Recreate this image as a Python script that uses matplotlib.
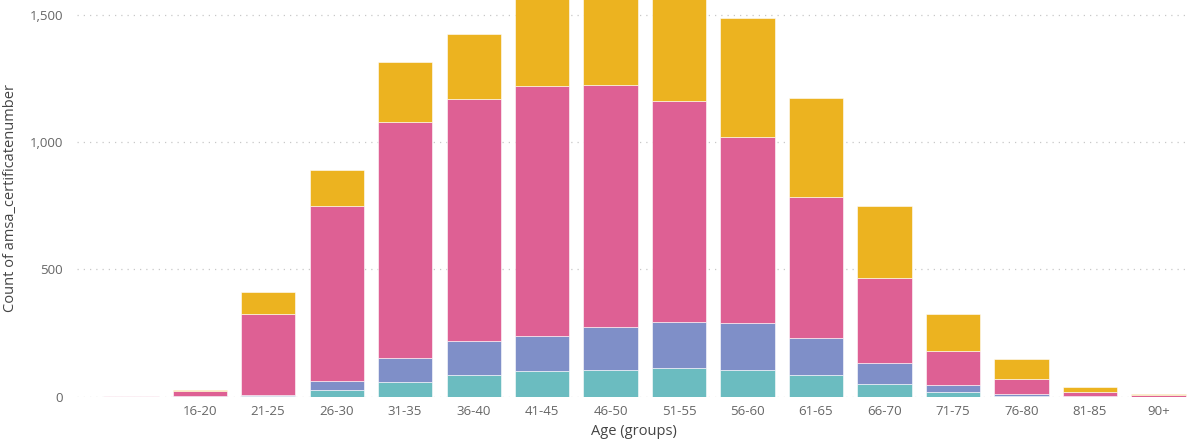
import matplotlib.pyplot as plt
import numpy as np

plt.rcParams['font.family'] = ['Open Sans', 'DejaVu Sans']

# age groups (first one has no age recorded)
groups = ['', '16-20', '21-25', '26-30', '31-35', '36-40', '41-45', '46-50',
          '51-55', '56-60', '61-65', '66-70', '71-75', '76-80', '81-85', '90+']

# counts per series, bottom to top
teal   = [0, 0, 2, 28, 59, 85, 101, 105, 112, 105, 87, 51, 20, 2, 0, 0]
purple = [0, 1, 3, 35, 92, 133, 138, 168, 182, 185, 144, 80, 25, 10, 3, 0]
pink   = [3, 20, 321, 685, 929, 950, 980, 949, 866, 730, 552, 335, 135, 56, 14, 6]
yellow = [0, 5, 85, 143, 235, 256, 420, 420, 430, 467, 390, 284, 143, 79, 20, 4]

series = [teal, purple, pink, yellow]
colors = ['#6bbcc0', '#7f8fc8', '#de6094', '#ecb320']

fig = plt.figure(figsize=(11.9, 4.45), dpi=100)
ax = fig.add_axes([0.0647, 0.1085, 0.9353, 0.8915])

x = np.arange(len(groups))
bottom = np.zeros(len(groups))
for vals, col in zip(series, colors):
    vals = np.array(vals, dtype=float)
    ax.bar(x, vals, width=0.79, bottom=bottom, color=col,
           edgecolor='white', linewidth=0.4, zorder=3)
    bottom += vals

ax.set_xlim(-0.79, 15.46)
ax.set_ylim(0, 1557)
ax.set_yticks([0, 500, 1000, 1500])
ax.set_yticklabels(['0', '500', '1,000', '1,500'])
ax.set_xticks(x)
ax.set_xticklabels(groups)

ax.grid(axis='y', color='#c8c8c8', linestyle=(0, (1, 4)), linewidth=0.9, zorder=0)
ax.tick_params(axis='both', length=0, labelsize=9.5, labelcolor='#666666')
ax.tick_params(axis='x', pad=6)
ax.tick_params(axis='y', pad=10)
for s in ax.spines.values():
    s.set_visible(False)

ax.set_ylabel('Count of amsa_certificatenumber', fontsize=10.5, color='#444444', labelpad=8)
ax.set_xlabel('Age (groups)', fontsize=10.5, color='#444444', labelpad=4)

fig.savefig('out.png', dpi=100)
